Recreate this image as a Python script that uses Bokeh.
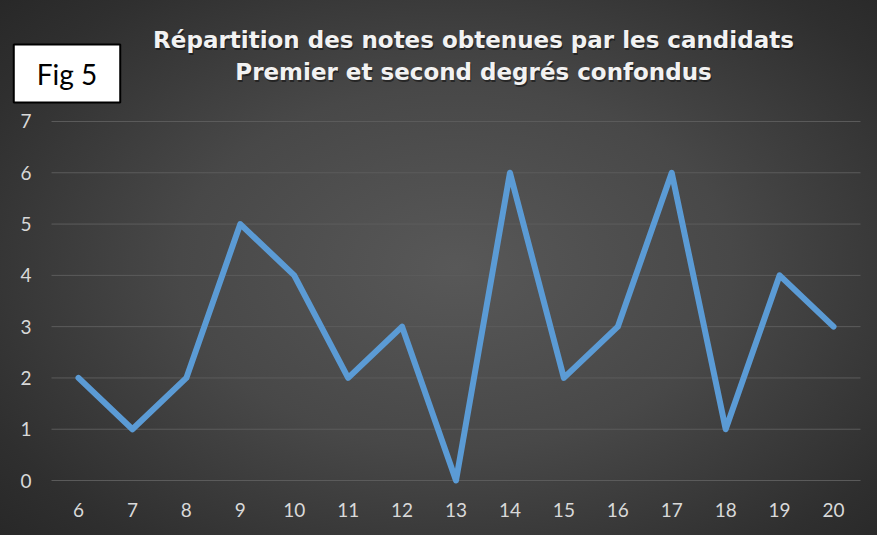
from bokeh.plotting import figure
from bokeh.models import Range1d, Label, FixedTicker
from bokeh.embed import file_html
from bokeh.resources import INLINE

# ---- data ----
notes = [6, 7, 8, 9, 10, 11, 12, 13, 14, 15, 16, 17, 18, 19, 20]
effectifs = [2, 1, 2, 5, 4, 2, 3, 0, 6, 2, 3, 6, 1, 4, 3]
y_ticks = [0, 1, 2, 3, 4, 5, 6, 7]
title_line1 = "Répartition des notes obtenues par les candidats"
title_line2 = "Premier et second degrés confondus"
fig_label = "Fig 5"

X0, X1 = 5.5, 20.5   # extent of the category area
p = figure(
    width=877, height=535,
    x_range=Range1d(4.554, 20.815), y_range=Range1d(-1.072, 9.359),
    output_backend="svg", toolbar_location=None,
    min_border=0,
    styles={"background": "radial-gradient(ellipse 70% 75% at 52% 50%, #585858 0%, #484848 45%, #2f2f2f 85%, #282828 100%)"},
)
p.border_fill_color = None
p.background_fill_color = None
p.outline_line_color = None

# axes
for ax in (p.xaxis[0], p.yaxis[0]):
    ax.axis_line_color = None
    ax.major_tick_line_color = None
    ax.minor_tick_line_color = None
    ax.major_label_text_color = "#d9d9d9"
    ax.major_label_text_font = "Lato"
    ax.major_label_text_font_size = "19px"
p.xaxis.ticker = FixedTicker(ticks=notes)
p.yaxis.ticker = FixedTicker(ticks=y_ticks)
p.yaxis.fixed_location = X0
p.xaxis.fixed_location = 0
p.xaxis.major_label_standoff = 16
p.yaxis.major_label_standoff = 14

p.xgrid.grid_line_color = None
p.ygrid.grid_line_color = None

# horizontal grid lines limited to the category area
p.segment(x0=X0, x1=X1, y0=y_ticks, y1=y_ticks, line_color="#5c5c5c", line_width=1)

p.line(notes, effectifs, line_width=6, line_color="#5B9BD5",
       line_join="round", line_cap="round")

# title (with soft shadow)
for txt, yy in ((title_line1, 39.5), (title_line2, 71)):
    p.add_layout(Label(x=474, y=yy + 2, x_units="canvas", y_units="canvas", text=txt,
                       text_align="center", text_baseline="middle",
                       text_font="DejaVu Sans", text_font_style="bold",
                       text_font_size="23px", text_color="black", text_alpha=0.45))
    p.add_layout(Label(x=473, y=yy, x_units="canvas", y_units="canvas", text=txt,
                       text_align="center", text_baseline="middle",
                       text_font="DejaVu Sans", text_font_style="bold",
                       text_font_size="23px", text_color="#f2f2f2"))

# Fig 5 box
p.add_layout(Label(x=66.5, y=73, x_units="canvas", y_units="canvas", text=fig_label,
                   text_align="center", text_baseline="middle", level="overlay",
                   text_font="Lato", text_font_size="28px", text_color="black",
                   background_fill_color="white", border_line_color="black",
                   border_line_width=2,
                   padding=dict(left=23, right=23, top=12, bottom=12)))

open("out.html", "w").write(file_html(p, INLINE))
